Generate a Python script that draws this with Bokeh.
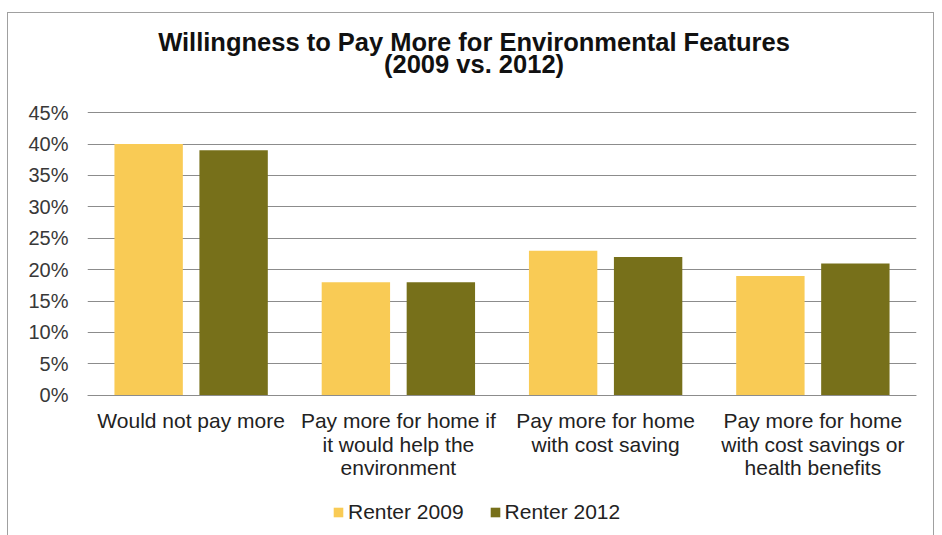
from bokeh.plotting import figure
from bokeh.models import FactorRange, Range1d, FixedTicker, Legend, LegendItem, Label, ColumnDataSource
from bokeh.transform import dodge
from bokeh.embed import file_html
from bokeh.resources import INLINE

categories = ["Would not pay more",
              "Pay more for home if\nit would help the\nenvironment",
              "Pay more for home\nwith cost saving",
              "Pay more for home\nwith cost savings or\nhealth benefits"]
renter_2009 = [40, 18, 23, 19]
renter_2012 = [39, 18, 22, 21]
y_ticks = [0, 5, 10, 15, 20, 25, 30, 35, 40, 45]
y_tick_labels = ["0%", "5%", "10%", "15%", "20%", "25%", "30%", "35%", "40%", "45%"]
title_line1 = "Willingness to Pay More for Environmental Features"
title_line2 = "(2009 vs. 2012)"

FONT = "Liberation Sans"
C09 = "#F9CB55"
C12 = "#77701A"

src = ColumnDataSource(dict(cat=categories, r09=renter_2009, r12=renter_2012))

p = figure(width=927, height=523, x_range=FactorRange(*categories, range_padding=0),
           y_range=Range1d(-22.5, 60.8), output_backend="svg", toolbar_location=None,
           min_border_left=79, min_border_right=19, min_border_top=0, min_border_bottom=0)
p.margin = (12, 0, 0, 7)
p.styles = {"border-top": "1px solid #a0a0a0", "border-left": "1px solid #a0a0a0",
            "border-right": "1px solid #a0a0a0"}

r1 = p.vbar(x=dodge("cat", -0.205, range=p.x_range), top="r09", width=0.33, source=src,
            fill_color=C09, line_color=None)
r2 = p.vbar(x=dodge("cat", 0.205, range=p.x_range), top="r12", width=0.33, source=src,
            fill_color=C12, line_color=None)

p.outline_line_color = None
p.xgrid.grid_line_color = None
p.ygrid.grid_line_color = "#8c8c8c"
p.ygrid.grid_line_width = 1
p.yaxis.ticker = FixedTicker(ticks=y_ticks)
p.yaxis.major_label_overrides = {t: l for t, l in zip(y_ticks, y_tick_labels)}
p.yaxis.axis_line_color = None
p.yaxis.major_tick_line_color = None
p.yaxis.minor_tick_line_color = None
p.yaxis.major_label_text_font = FONT
p.yaxis.major_label_text_font_size = "20px"
p.yaxis.major_label_text_color = "#383838"
p.yaxis.major_label_standoff = 13

p.xaxis.fixed_location = 0
p.xaxis.axis_line_color = "#8c8c8c"
p.xaxis.major_tick_line_color = None
p.xaxis.minor_tick_line_color = None
p.xaxis.major_label_text_font = FONT
p.xaxis.major_label_text_font_size = "21px"
p.xaxis.major_label_text_color = "#222222"
p.xaxis.major_label_text_line_height = 1.02
p.xaxis.major_label_standoff = 8

p.title = None
lab1 = Label(x=1.865, y=56.3, text=title_line1, text_align="center", text_baseline="middle",
             text_font=FONT, text_font_size="25.5px", text_font_style="bold", text_color="#111111")
lab2 = Label(x=1.865, y=52.7, text=title_line2, text_align="center", text_baseline="middle",
             text_font=FONT, text_font_size="25.5px", text_font_style="bold", text_color="#111111")
p.add_layout(lab1)
p.add_layout(lab2)

legend = Legend(items=[LegendItem(label="Renter 2009", renderers=[r1]),
                       LegendItem(label="Renter 2012", renderers=[r2])],
                orientation="horizontal", location=(245, 12),
                label_text_font=FONT, label_text_font_size="21px", label_text_color="#222222",
                glyph_width=12, glyph_height=12, spacing=25, label_standoff=4,
                border_line_color=None, background_fill_alpha=0, margin=0, padding=0)
p.add_layout(legend)

open("out.html", "w").write(file_html(p, INLINE))
